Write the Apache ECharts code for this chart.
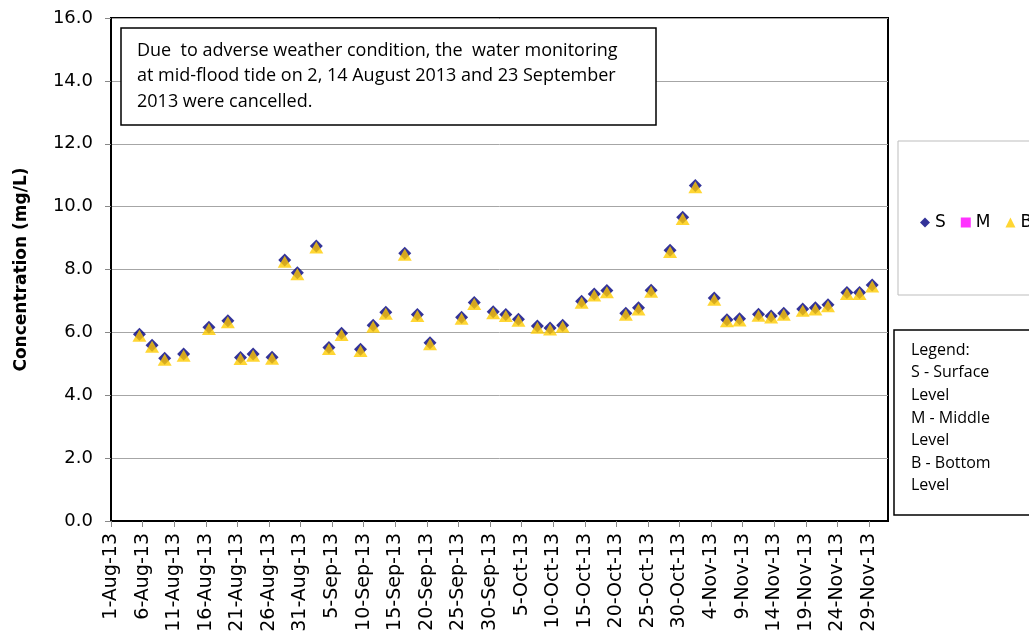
<!DOCTYPE html>
<html><head><meta charset="utf-8">
<script src="https://cdn.jsdelivr.net/npm/echarts@6/dist/echarts.min.js"></script>
<style>html,body{margin:0;padding:0;background:#fff}#c{width:1029px;height:635px}</style>
</head><body><div id="c"></div>
<script>
const dates = ['2013-08-05','2013-08-07','2013-08-09','2013-08-12','2013-08-16','2013-08-19','2013-08-21','2013-08-23','2013-08-26','2013-08-28','2013-08-30',
 '2013-09-02','2013-09-04','2013-09-06','2013-09-09','2013-09-11','2013-09-13','2013-09-16','2013-09-18','2013-09-20','2013-09-25','2013-09-27','2013-09-30',
 '2013-10-02','2013-10-04','2013-10-07','2013-10-09','2013-10-11','2013-10-14','2013-10-16','2013-10-18','2013-10-21','2013-10-23','2013-10-25','2013-10-28','2013-10-30',
 '2013-11-01','2013-11-04','2013-11-06','2013-11-08','2013-11-11','2013-11-13','2013-11-15','2013-11-18','2013-11-20','2013-11-22','2013-11-25','2013-11-27','2013-11-29'];
const surface = [5.94,5.59,5.18,5.31,6.16,6.37,5.20,5.31,5.21,8.30,7.90,
 8.75,5.52,5.97,5.46,6.23,6.64,8.52,6.57,5.67,6.48,6.95,6.66,
 6.57,6.42,6.20,6.14,6.23,6.99,7.22,7.33,6.61,6.78,7.34,8.61,9.66,
 10.67,7.09,6.40,6.43,6.58,6.52,6.61,6.74,6.78,6.88,7.27,7.27,7.51];
const middle = [5.89,5.54,5.13,5.26,6.11,6.32,5.15,5.26,5.16,8.25,7.85,
 8.70,5.47,5.92,5.41,6.18,6.59,8.47,6.52,5.62,6.43,6.90,6.61,
 6.52,6.37,6.15,6.09,6.18,6.94,7.17,7.28,6.56,6.73,7.29,8.56,9.61,
 10.62,7.04,6.35,6.38,6.53,6.47,6.56,6.69,6.73,6.83,7.22,7.22,7.46];
const bottom = [5.89,5.54,5.13,5.26,6.11,6.32,5.15,5.26,5.16,8.25,7.85,
 8.70,5.47,5.92,5.41,6.18,6.59,8.47,6.52,5.62,6.43,6.90,6.61,
 6.52,6.37,6.15,6.09,6.18,6.94,7.17,7.28,6.56,6.73,7.29,8.56,9.61,
 10.62,7.04,6.35,6.38,6.53,6.47,6.56,6.69,6.73,6.83,7.22,7.22,7.46];
const seriesNames = ['S','M','B'];
const months = ['Jan','Feb','Mar','Apr','May','Jun','Jul','Aug','Sep','Oct','Nov','Dec'];
const startDate = '2013-08-01';
const noteLines = ['Due  to adverse weather condition, the  water monitoring','at mid-flood tide on 2, 14 August 2013 and 23 September','2013 were cancelled.'];
const legendLines = ['Legend:','S - Surface','Level','M - Middle','Level','B - Bottom','Level'];

const DAY = 864e5;
const t0 = Date.parse(startDate + 'T00:00:00Z');
// each date is plotted at the centre of its day slot
const xs = dates.map(d => (Date.parse(d + 'T12:00:00Z') - t0) / DAY);
const pair = arr => arr.map((v, i) => [xs[i], v]);

const chart = echarts.init(document.getElementById('c'));
chart.setOption({
  animation: false,
  backgroundColor: '#fff',
  grid: {left: 111, right: 141, top: 18, bottom: 114, show: true, borderColor: '#000', borderWidth: 2, outerBoundsMode: 'none', containLabel: false},
  xAxis: {
    type: 'value', min: 0, max: 123, interval: 5,
    axisLine: {lineStyle: {color: '#000', width: 2}},
    axisTick: {show: true, length: 6, lineStyle: {color: '#888'}},
    splitLine: {show: false},
    axisLabel: {
      rotate: 90, margin: 12, fontSize: 19, color: '#000', fontFamily: 'DejaVu Sans',
      showMaxLabel: false, hideOverlap: false,
      formatter: v => { const d = new Date(t0 + v * DAY); return d.getUTCDate() + '-' + months[d.getUTCMonth()] + '-13'; }
    }
  },
  yAxis: {
    type: 'value', min: 0, max: 16, interval: 2,
    name: 'Concentration (mg/L)', nameLocation: 'middle', nameGap: 81,
    nameTextStyle: {fontSize: 17, fontWeight: 'bold', color: '#000', fontFamily: 'DejaVu Sans'},
    axisLine: {show: true, lineStyle: {color: '#000', width: 2}},
    axisTick: {show: true, length: 6, lineStyle: {color: '#888'}},
    splitLine: {lineStyle: {color: '#a6a6a6', width: 1}},
    axisLabel: {fontSize: 18, color: '#000', margin: 18, fontFamily: 'DejaVu Sans', formatter: v => v.toFixed(1)}
  },
  legend: {
    left: 915, top: 209, width: 300, itemWidth: 10, itemHeight: 10, itemGap: 15,
    textStyle: {fontSize: 17, color: '#000', fontFamily: 'DejaVu Sans'},
    data: [{name: 'S', icon: 'diamond'}, {name: 'M', icon: 'rect'}, {name: 'B', icon: 'triangle'}]
  },
  series: [
    {name: seriesNames[0], type: 'scatter', data: pair(surface), symbol: 'diamond', symbolSize: [13, 13], itemStyle: {color: '#000080'}, z: 3},
    {name: seriesNames[1], type: 'scatter', data: pair(middle), symbol: 'rect', symbolSize: 4, itemStyle: {color: '#FF00FF'}, z: 2},
    {name: seriesNames[2], type: 'scatter', data: pair(bottom), symbol: 'triangle', symbolSize: [14, 12], itemStyle: {color: '#FFCC00'}, z: 4}
  ],
  graphic: [
    {type: 'rect', z: 10, shape: {x: 121, y: 28, width: 535, height: 97}, style: {fill: '#fff', stroke: '#000', lineWidth: 1.5}},
    {type: 'text', z: 11, x: 137, y: 38, style: {text: noteLines.join('\n'), font: '18px "Open Sans"', lineHeight: 25.5, fill: '#000', verticalAlign: 'top'}},
    {type: 'rect', z: 0, shape: {x: 898, y: 141, width: 140, height: 154}, style: {fill: '#fff', stroke: '#bdbdbd', lineWidth: 1}},
    {type: 'rect', z: 0, shape: {x: 894, y: 330, width: 140, height: 185}, style: {fill: '#fff', stroke: '#000', lineWidth: 1.5}},
    {type: 'text', z: 1, x: 911, y: 339, style: {text: legendLines.join('\n'), font: '16px "Open Sans"', lineHeight: 22.6, fill: '#000', verticalAlign: 'top'}}
  ]
});
</script>
</body></html>
